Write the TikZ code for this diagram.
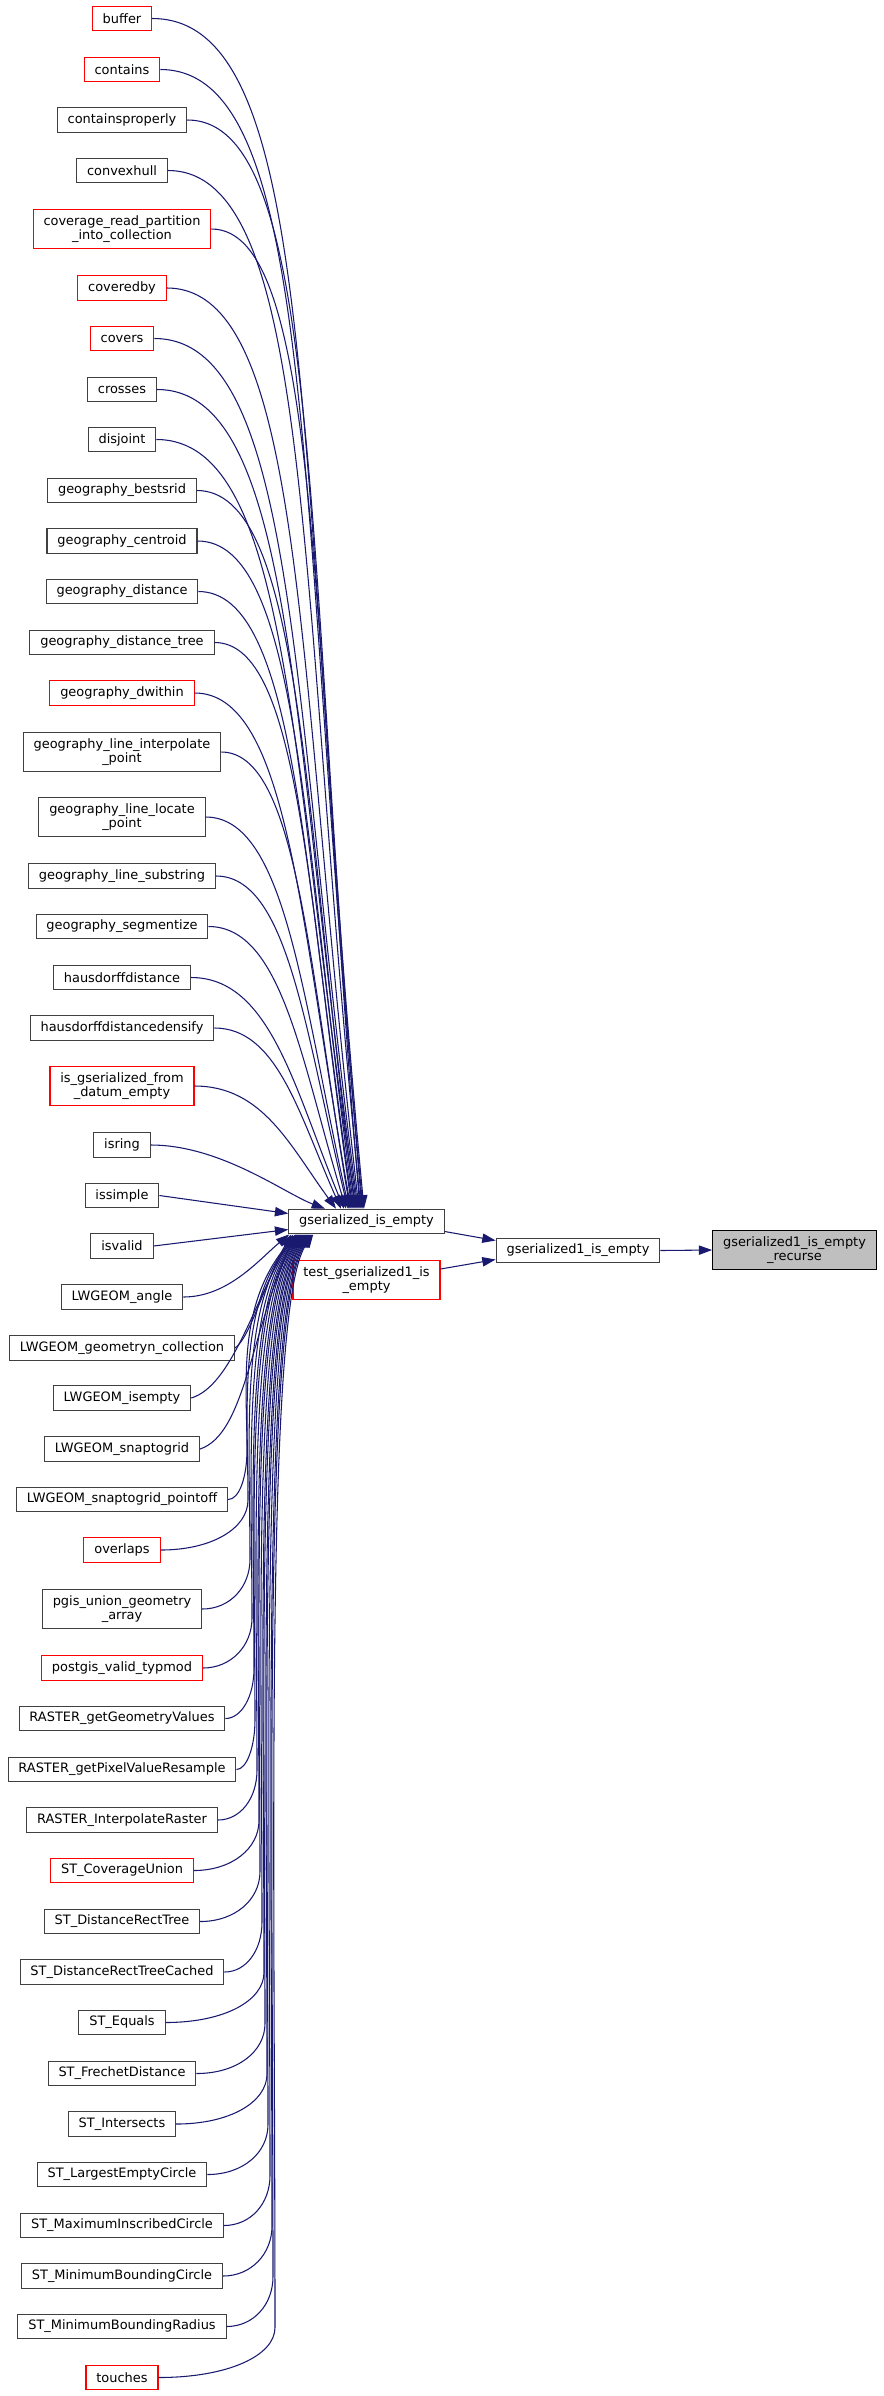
\documentclass[tikz,border=0pt]{standalone}
\usepackage{fontspec}
\setmainfont{DejaVu Sans}
\usetikzlibrary{arrows.meta, calc}
\definecolor{midnight}{RGB}{25,25,112}
\definecolor{boxline}{RGB}{64,64,64}
\definecolor{boxred}{RGB}{255,0,0}
\definecolor{selgray}{RGB}{191,191,191}
\tikzset{
  func/.style={draw=boxline, fill=white, line width=0.8pt, inner xsep=7.8pt, inner ysep=2pt,
    minimum height=18.5pt, align=center, font=\fontsize{9.7pt}{11pt}\selectfont},
  funcred/.style={func, draw=boxred},
  twoline/.style={minimum height=29.5pt},
  funcsel/.style={func, draw=black, fill=selgray},
  calls/.style={draw=midnight, line width=0.8pt, -{Triangle[length=10pt, width=7pt]}}
}

\begin{document}
\begin{tikzpicture}[x=0.75pt, y=-0.75pt]
    \useasboundingbox (0,0) rectangle (884,2396);
    % callers, left column
    \node [funcred] (buffer) at (122,18.5) {buffer};
    \node [funcred] (contains) at (122,69.5) {contains};
    \node [func] (containsproperly) at (122,120) {containsproperly};
    \node [func] (convexhull) at (122,170.5) {convexhull};
    \node [funcred, twoline] (coverage) at (122,229) {coverage\_read\_partition\\\_into\_collection};
    \node [funcred] (coveredby) at (122,288) {coveredby};
    \node [funcred] (covers) at (122,338.5) {covers};
    \node [func] (crosses) at (122,389.5) {crosses};
    \node [func] (disjoint) at (122,439.5) {disjoint};
    \node [func] (bestsrid) at (122,490.5) {geography\_bestsrid};
    \node [func] (centroid) at (122,541) {geography\_centroid};
    \node [func] (distance) at (122,591.5) {geography\_distance};
    \node [func] (distancetree) at (122,642.5) {geography\_distance\_tree};
    \node [funcred] (dwithin) at (122,693) {geography\_dwithin};
    \node [func, twoline] (interpolate) at (122,752) {geography\_line\_interpolate\\\_point};
    \node [func, twoline] (locate) at (122,817) {geography\_line\_locate\\\_point};
    \node [func] (substring) at (122,876) {geography\_line\_substring};
    \node [func] (segmentize) at (122,926.5) {geography\_segmentize};
    \node [func] (hausdorff) at (122,977.5) {hausdorffdistance};
    \node [func] (densify) at (122,1028) {hausdorffdistancedensify};
    \node [funcred, twoline] (fromdatum) at (122,1086) {is\_gserialized\_from\\\_datum\_empty};
    \node [func] (isring) at (122,1145) {isring};
    \node [func] (issimple) at (122,1195.5) {issimple};
    \node [func] (isvalid) at (122,1246) {isvalid};
    \node [func] (angle) at (122,1297) {LWGEOM\_angle};
    \node [func] (geometryn) at (122,1348) {LWGEOM\_geometryn\_collection};
    \node [func] (isempty) at (122,1398) {LWGEOM\_isempty};
    \node [func] (snaptogrid) at (122,1449) {LWGEOM\_snaptogrid};
    \node [func] (pointoff) at (122,1499.5) {LWGEOM\_snaptogrid\_pointoff};
    \node [funcred] (overlaps) at (122,1550) {overlaps};
    \node [func, twoline] (unionarray) at (122,1609) {pgis\_union\_geometry\\\_array};
    \node [funcred] (typmod) at (122,1668) {postgis\_valid\_typmod};
    \node [func] (geomvalues) at (122,1718.5) {RASTER\_getGeometryValues};
    \node [func] (resample) at (122,1769.5) {RASTER\_getPixelValueResample};
    \node [func] (interpraster) at (122,1820) {RASTER\_InterpolateRaster};
    \node [funcred] (coverageunion) at (122,1870.5) {ST\_CoverageUnion};
    \node [func] (recttree) at (122,1921.5) {ST\_DistanceRectTree};
    \node [func] (recttreecached) at (122,1972) {ST\_DistanceRectTreeCached};
    \node [func] (equals) at (122,2022.5) {ST\_Equals};
    \node [func] (frechet) at (122,2073.5) {ST\_FrechetDistance};
    \node [func] (intersects) at (122,2124) {ST\_Intersects};
    \node [func] (largestcircle) at (122,2174.5) {ST\_LargestEmptyCircle};
    \node [func] (inscribed) at (122,2225.5) {ST\_MaximumInscribedCircle};
    \node [func] (boundingcircle) at (122,2276) {ST\_MinimumBoundingCircle};
    \node [func] (boundingradius) at (122,2326.5) {ST\_MinimumBoundingRadius};
    \node [funcred] (touches) at (122,2377.5) {touches};
    % middle and right
    \node [func] (gserempty) at (366.5,1221.5) {gserialized\_is\_empty};
    \node [funcred, twoline] (testempty) at (366.5,1280) {test\_gserialized1\_is\\\_empty};
    \node [func] (gserone) at (578,1250.5) {gserialized1\_is\_empty};
    \node [funcsel, twoline] (recurse) at (794.5,1250) {gserialized1\_is\_empty\\\_recurse};

    % edges into the top of gserialized_is_empty
    \draw [calls] (buffer.east) .. controls +(170,0) and +(-70,-738) .. ($(gserempty.north)+(-2.5,0)$);
    \draw [calls] (contains.east) .. controls +(159,0) and +(-67,-701) .. ($(gserempty.north)+(-3.5,0)$);
    \draw [calls] (containsproperly.east) .. controls +(135,0) and +(-58,-664) .. ($(gserempty.north)+(-4.5,0)$);
    \draw [calls] (convexhull.east) .. controls +(145,0) and +(-63,-628) .. ($(gserempty.north)+(-5.5,0)$);
    \draw [calls] (coverage.east) .. controls +(109,0) and +(-49,-587) .. ($(gserempty.north)+(-6.5,0)$);
    \draw [calls] (coveredby.east) .. controls +(138,0) and +(-63,-546) .. ($(gserempty.north)+(-7.5,0)$);
    \draw [calls] (covers.east) .. controls +(143,0) and +(-67,-512) .. ($(gserempty.north)+(-8.5,0)$);
    \draw [calls] (crosses.east) .. controls +(138,0) and +(-66,-477) .. ($(gserempty.north)+(-9.5,0)$);
    \draw [calls] (disjoint.east) .. controls +(135,0) and +(-66,-444) .. ($(gserempty.north)+(-10.5,0)$);
    \draw [calls] (bestsrid.east) .. controls +(104,0) and +(-52,-411) .. ($(gserempty.north)+(-11.5,0)$);
    \draw [calls] (centroid.east) .. controls +(101,0) and +(-52,-379) .. ($(gserempty.north)+(-12.5,0)$);
    \draw [calls] (distance.east) .. controls +(97,0) and +(-51,-347) .. ($(gserempty.north)+(-13.5,0)$);
    \draw [calls] (distancetree.east) .. controls +(85,0) and +(-45,-316) .. ($(gserempty.north)+(-14.5,0)$);
    \draw [calls] (dwithin.east) .. controls +(94,0) and +(-51,-285) .. ($(gserempty.north)+(-15.5,0)$);
    \draw [calls] (interpolate.east) .. controls +(75,0) and +(-42,-250) .. ($(gserempty.north)+(-16.5,0)$);
    \draw [calls] (locate.east) .. controls +(80,0) and +(-47,-211) .. ($(gserempty.north)+(-17.5,0)$);
    \draw [calls] (substring.east) .. controls +(72,0) and +(-43,-178) .. ($(gserempty.north)+(-18.5,0)$);
    \draw [calls] (segmentize.east) .. controls +(73,0) and +(-45,-149) .. ($(gserempty.north)+(-20.5,0)$);
    \draw [calls] (hausdorff.east) .. controls +(79,0) and +(-50,-121) .. ($(gserempty.north)+(-22.5,0)$);
    \draw [calls] (densify.east) .. controls +(63,0) and +(-42,-94) .. ($(gserempty.north)+(-25.5,0)$);
    \draw [calls] (fromdatum.east) .. controls +(68,0) and +(-46,-63) .. ($(gserempty.north)+(-30.5,0)$);
    \draw [calls] (isring.east) .. controls +(70,0) and +(-40,-15) .. ($(gserempty.north)+(-41.5,0)$);
    % edges into the left side
    \draw [calls] (issimple.east) -- ($(gserempty.west)+(0,-8)$);
    \draw [calls] (isvalid.east) -- ($(gserempty.west)+(0,8)$);
    % edges into the bottom left corner
    \draw [calls] (angle.east) .. controls +(45,0) and +(-30,25) .. ($(gserempty.south west)+(1,0)$);
    \draw [calls] (geometryn.east) .. controls +(15,-10) and +(-25,45) .. ($(gserempty.south west)+(3,0)$);
    \draw [calls] (isempty.east) .. controls +(40,-12) and +(-40,70) .. ($(gserempty.south west)+(5,0)$);
    \draw [calls] (snaptogrid.east) .. controls +(45,-15) and +(-45,100) .. ($(gserempty.south west)+(7,0)$);
    \draw [calls] (pointoff.east) .. controls +(11,0) and +(0,28) .. (247,1449.5) .. controls +(0,-65) and +(-60,70) .. ($(gserempty.south west)+(8,0)$);
    \draw [calls] (overlaps.east) .. controls +(52,0) and +(0,28) .. (248,1500) .. controls +(0,-88) and +(-60,70) .. ($(gserempty.south west)+(9,0)$);
    \draw [calls] (unionarray.east) .. controls +(28,0) and +(0,28) .. (250,1559) .. controls +(0,-115) and +(-59,70) .. ($(gserempty.south west)+(10,0)$);
    \draw [calls] (typmod.east) .. controls +(28,0) and +(0,28) .. (252,1618) .. controls +(0,-141) and +(-58,70) .. ($(gserempty.south west)+(11,0)$);
    \draw [calls] (geomvalues.east) .. controls +(16,0) and +(0,28) .. (254,1668.5) .. controls +(0,-164) and +(-57,70) .. ($(gserempty.south west)+(12,0)$);
    \draw [calls] (resample.east) .. controls +(10,0) and +(0,28) .. (255,1719.5) .. controls +(0,-187) and +(-57,70) .. ($(gserempty.south west)+(13,0)$);
    \draw [calls] (interpraster.east) .. controls +(23,0) and +(0,28) .. (257,1770) .. controls +(0,-210) and +(-56,70) .. ($(gserempty.south west)+(14,0)$);
    \draw [calls] (coverageunion.east) .. controls +(38,0) and +(0,28) .. (259,1820.5) .. controls +(0,-232) and +(-55,70) .. ($(gserempty.south west)+(15,0)$);
    \draw [calls] (recttree.east) .. controls +(35,0) and +(0,28) .. (260,1871.5) .. controls +(0,-255) and +(-55,70) .. ($(gserempty.south west)+(16,0)$);
    \draw [calls] (recttreecached.east) .. controls +(22,0) and +(0,28) .. (262,1922) .. controls +(0,-278) and +(-54,70) .. ($(gserempty.south west)+(17,0)$);
    \draw [calls] (equals.east) .. controls +(59,0) and +(0,28) .. (264,1972.5) .. controls +(0,-301) and +(-53,70) .. ($(gserempty.south west)+(18,0)$);
    \draw [calls] (frechet.east) .. controls +(41,0) and +(0,28) .. (265,2023.5) .. controls +(0,-324) and +(-53,70) .. ($(gserempty.south west)+(19,0)$);
    \draw [calls] (intersects.east) .. controls +(54,0) and +(0,28) .. (267,2074) .. controls +(0,-347) and +(-52,70) .. ($(gserempty.south west)+(20,0)$);
    \draw [calls] (largestcircle.east) .. controls +(36,0) and +(0,28) .. (268,2124.5) .. controls +(0,-369) and +(-52,70) .. ($(gserempty.south west)+(21,0)$);
    \draw [calls] (inscribed.east) .. controls +(27,0) and +(0,28) .. (270,2175.5) .. controls +(0,-392) and +(-51,70) .. ($(gserempty.south west)+(22,0)$);
    \draw [calls] (boundingcircle.east) .. controls +(28,0) and +(0,28) .. (272,2226) .. controls +(0,-415) and +(-50,70) .. ($(gserempty.south west)+(23,0)$);
    \draw [calls] (boundingradius.east) .. controls +(27,0) and +(0,28) .. (273,2276.5) .. controls +(0,-438) and +(-50,70) .. ($(gserempty.south west)+(24,0)$);
    \draw [calls] (touches.east) .. controls +(70,0) and +(0,28) .. (275,2327.5) .. controls +(0,-461) and +(-49,70) .. ($(gserempty.south west)+(25,0)$);
    % right part of the graph
    \draw [calls] ($(gserempty.east)+(0,10)$) -- ($(gserone.west)+(0,-10)$);
    \draw [calls] ($(testempty.east)+(0,-11)$) -- ($(gserone.west)+(0,9)$);
    \draw [calls] (gserone.east) -- (recurse.west);
\end{tikzpicture}
\end{document}
